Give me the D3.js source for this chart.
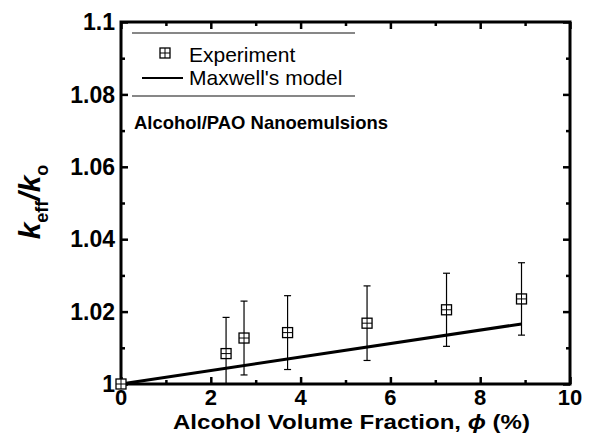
<!DOCTYPE html>
<html>
<head>
<meta charset="utf-8">
<script src="https://cdn.jsdelivr.net/npm/d3@7"></script>
<style>
  html, body { margin: 0; padding: 0; background: #fff; }
  svg { display: block; }
  text { font-family: "Liberation Sans", Arial, sans-serif; fill: #000; }
</style>
</head>
<body>
<svg id="chart" width="600" height="443"></svg>
<script>
// ---- data ----
const phi = [0, 2.34, 2.74, 3.71, 5.48, 7.25, 8.92];
const keff = [1.0, 1.0084, 1.0127, 1.0142, 1.0168, 1.0205, 1.0235];
const errs = [0, 0.0100, 0.0102, 0.0102, 0.0103, 0.0101, 0.0100];
const modelPhi = [0, 8.92];
const modelK = [1.0, 1.0166];
const xTicks = [0, 2, 4, 6, 8, 10];
const yTicks = [1.0, 1.02, 1.04, 1.06, 1.08, 1.1];
const yTickLabels = ["1", "1.02", "1.04", "1.06", "1.08", "1.1"];
const legendLabels = ["Experiment", "Maxwell's model"];
const annotation = "Alcohol/PAO Nanoemulsions";
const xTitle = "Alcohol Volume Fraction, ";

const svg = d3.select("#chart");
const L = 121, R = 570, T = 22, B = 384;
const x = d3.scaleLinear().domain([0, 10]).range([L, R]);
const y = d3.scaleLinear().domain([1.0, 1.1]).range([B, T]);

// clip
svg.append("clipPath").attr("id", "clip").append("rect")
  .attr("x", L).attr("y", T).attr("width", R - L).attr("height", B - T);

// Axes with inward ticks
const majorLen = 7, minorLen = 4;
const xMinor = d3.range(1, 10, 2);
const yMinor = [1.01, 1.03, 1.05, 1.07, 1.09];

function noDomain(g) { g.select(".domain").remove(); }
svg.append("g").attr("transform", `translate(0,${B})`)
  .call(d3.axisBottom(x).tickValues(xTicks).tickSize(-majorLen).tickFormat("")).call(noDomain);
svg.append("g").attr("transform", `translate(0,${B})`)
  .call(d3.axisBottom(x).tickValues(xMinor).tickSize(-minorLen).tickFormat("")).call(noDomain);
svg.append("g").attr("transform", `translate(0,${T})`)
  .call(d3.axisTop(x).tickValues(xTicks).tickSize(-majorLen).tickFormat("")).call(noDomain);
svg.append("g").attr("transform", `translate(0,${T})`)
  .call(d3.axisTop(x).tickValues(xMinor).tickSize(-minorLen).tickFormat("")).call(noDomain);
svg.append("g").attr("transform", `translate(${L},0)`)
  .call(d3.axisLeft(y).tickValues(yTicks).tickSize(-majorLen).tickFormat("")).call(noDomain);
svg.append("g").attr("transform", `translate(${L},0)`)
  .call(d3.axisLeft(y).tickValues(yMinor).tickSize(-minorLen).tickFormat("")).call(noDomain);
svg.append("g").attr("transform", `translate(${R},0)`)
  .call(d3.axisRight(y).tickValues(yTicks).tickSize(-majorLen).tickFormat("")).call(noDomain);
svg.append("g").attr("transform", `translate(${R},0)`)
  .call(d3.axisRight(y).tickValues(yMinor).tickSize(-minorLen).tickFormat("")).call(noDomain);
svg.selectAll(".tick line").attr("stroke", "#000").attr("stroke-width", 2.5);

// tick labels
svg.append("g").selectAll("text").data(xTicks).join("text")
  .attr("x", d => x(d)).attr("y", 405)
  .attr("text-anchor", "middle")
  .style("font-size", "22px").style("font-weight", "bold")
  .text(d => d);
svg.append("g").selectAll("text").data(yTicks).join("text")
  .attr("x", L - 6).attr("y", d => y(d)).attr("dy", "0.36em")
  .attr("text-anchor", "end")
  .style("font-size", "23px").style("font-weight", "bold")
  .text((d, i) => yTickLabels[i]);

// frame
svg.append("rect").attr("x", L).attr("y", T).attr("width", R - L).attr("height", B - T)
  .attr("fill", "none").attr("stroke", "#000").attr("stroke-width", 3);

// model line
svg.append("path")
  .datum(modelPhi.map((p, i) => [p, modelK[i]]))
  .attr("d", d3.line().x(d => x(d[0])).y(d => y(d[1])))
  .attr("fill", "none").attr("stroke", "#000").attr("stroke-width", 3);

// error bars
const eb = svg.append("g").attr("clip-path", "url(#clip)");
const pts = phi.map((p, i) => ({p, k: keff[i], e: errs[i]})).filter(d => d.e > 0);
eb.selectAll("line.v").data(pts).join("line")
  .attr("x1", d => x(d.p)).attr("x2", d => x(d.p))
  .attr("y1", d => y(d.k + d.e)).attr("y2", d => y(d.k - d.e))
  .attr("stroke", "#000").attr("stroke-width", 1.2);
eb.selectAll("line.t").data(pts).join("line")
  .attr("x1", d => x(d.p) - 3.5).attr("x2", d => x(d.p) + 3.5)
  .attr("y1", d => y(d.k + d.e)).attr("y2", d => y(d.k + d.e))
  .attr("stroke", "#000").attr("stroke-width", 1.2);
eb.selectAll("line.b").data(pts).join("line")
  .attr("x1", d => x(d.p) - 3.5).attr("x2", d => x(d.p) + 3.5)
  .attr("y1", d => y(d.k - d.e)).attr("y2", d => y(d.k - d.e))
  .attr("stroke", "#000").attr("stroke-width", 1.2);

// markers: open square with cross
function marker(g, cx, cy) {
  const s = 5;
  g.append("rect").attr("x", cx - s).attr("y", cy - s).attr("width", 2 * s).attr("height", 2 * s)
    .attr("fill", "#fff").attr("stroke", "#000").attr("stroke-width", 1.3);
  g.append("line").attr("x1", cx - s).attr("x2", cx + s).attr("y1", cy).attr("y2", cy)
    .attr("stroke", "#000").attr("stroke-width", 1);
  g.append("line").attr("x1", cx).attr("x2", cx).attr("y1", cy - s).attr("y2", cy + s)
    .attr("stroke", "#000").attr("stroke-width", 1);
}
const mg = svg.append("g");
phi.forEach((p, i) => marker(mg, x(p), y(keff[i])));

// legend
const lg = svg.append("g");
lg.append("line").attr("x1", 132).attr("x2", 355).attr("y1", 33).attr("y2", 33)
  .attr("stroke", "#111").attr("stroke-width", 1.2);
lg.append("line").attr("x1", 132).attr("x2", 355).attr("y1", 96).attr("y2", 96)
  .attr("stroke", "#111").attr("stroke-width", 1.2);
marker(lg, 165, 53);
lg.append("line").attr("x1", 142).attr("x2", 183).attr("y1", 78).attr("y2", 78)
  .attr("stroke", "#000").attr("stroke-width", 2);
lg.append("text").attr("x", 189).attr("y", 62).style("font-size", "21px").text(legendLabels[0]);
lg.append("text").attr("x", 189).attr("y", 85).style("font-size", "21px").text(legendLabels[1]);

// annotation
svg.append("text").attr("x", 134).attr("y", 129)
  .attr("textLength", 254).attr("lengthAdjust", "spacingAndGlyphs")
  .style("font-size", "19px").style("font-weight", "bold")
  .text(annotation);

// x title
const xt = svg.append("text").attr("x", 173).attr("y", 429)
  .attr("textLength", 357).attr("lengthAdjust", "spacingAndGlyphs")
  .style("font-size", "21px").style("font-weight", "bold");
xt.append("tspan").text(xTitle);
xt.append("tspan").style("font-style", "italic").text("\u03D5");
xt.append("tspan").text(" (%)");

// y title
const yt = svg.append("text")
  .attr("transform", "translate(40,202) rotate(-90)")
  .attr("text-anchor", "middle")
  .style("font-weight", "bold");
yt.append("tspan").style("font-size", "30px").style("font-style", "italic").text("k");
yt.append("tspan").style("font-size", "18px").attr("dy", 8).text("eff");
yt.append("tspan").style("font-size", "30px").style("font-style", "italic").attr("dy", -8).text("/k");
yt.append("tspan").style("font-size", "18px").attr("dy", 8).text("o");
</script>
</body>
</html>
